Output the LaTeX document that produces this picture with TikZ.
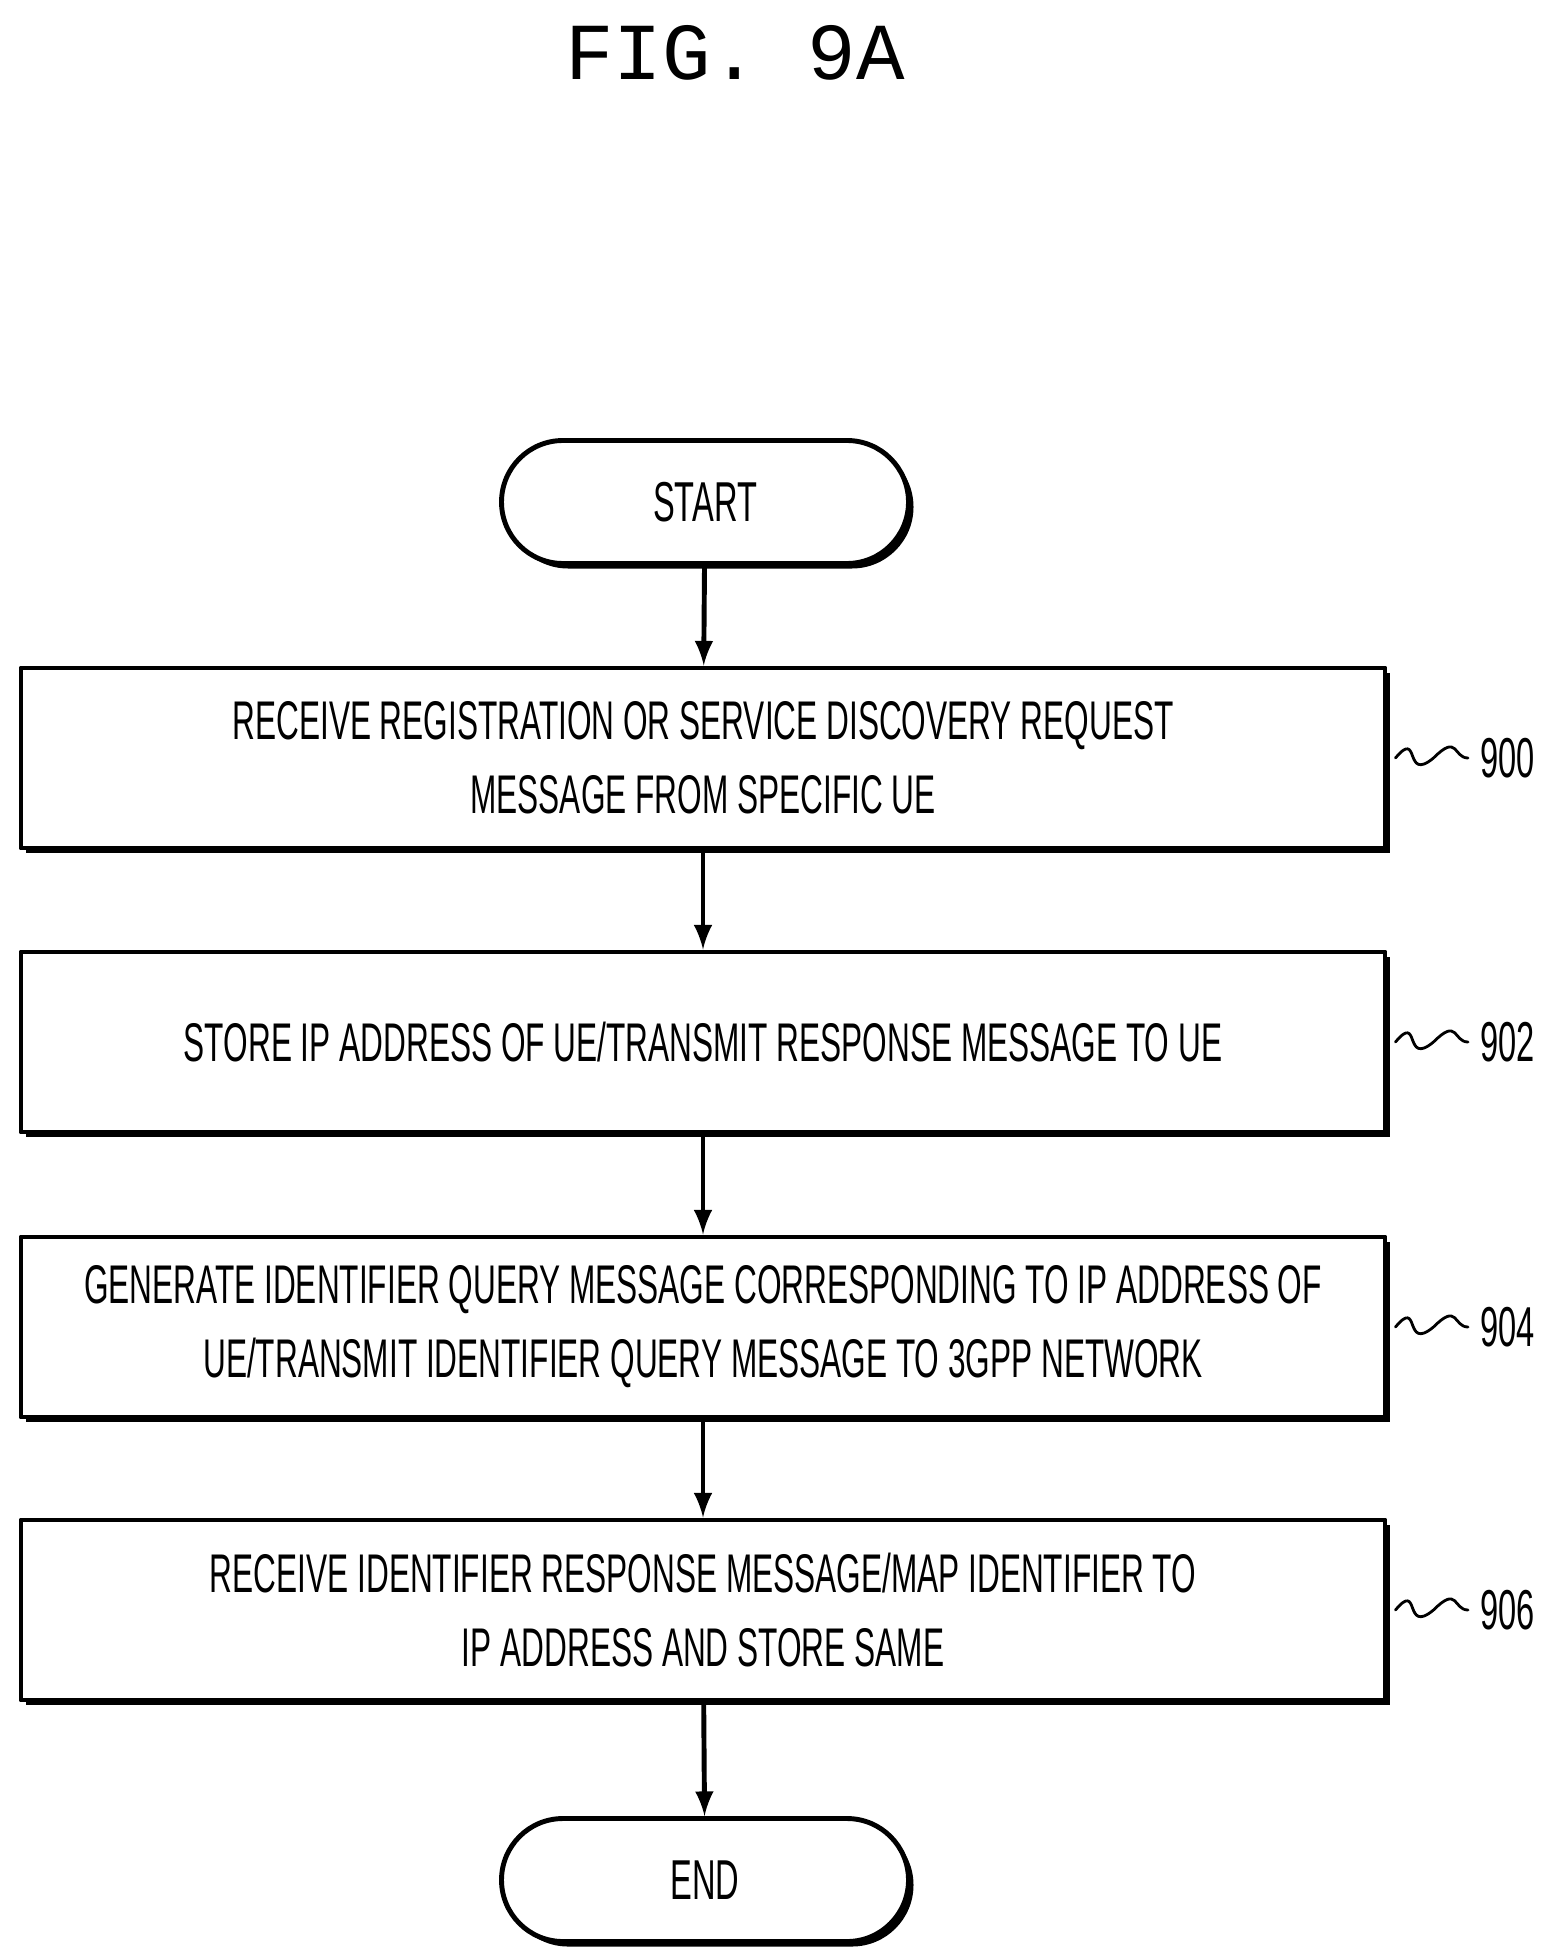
\documentclass[tikz,border=0pt]{standalone}
\usepackage{fontspec}
\setmainfont{Liberation Sans}[FakeStretch=0.58]
\newfontfamily\figfont{Liberation Mono}
\usetikzlibrary{shadows}
\tikzset{
  procbox/.style={draw=black, line width=1.4pt, fill=white, minimum width=13.64cm, minimum height=1.8cm,
    align=center, font=\fontsize{15.5}{21}\selectfont,
    drop shadow={shadow xshift=0.05cm, shadow yshift=-0.05cm, fill=black, opacity=1}},
  term/.style={draw=black, line width=1.4pt, fill=white, rounded corners=0.615cm, minimum width=4.07cm,
    minimum height=1.23cm, font=\fontsize{16}{21}\selectfont,
    drop shadow={shadow xshift=0.05cm, shadow yshift=-0.05cm, fill=black, opacity=1}},
  flow/.style={line width=1.4pt, -latex},
  tag/.style={font=\fontsize{16}{21}\selectfont, anchor=west}
}
\begin{document}
\begin{tikzpicture}[line cap=round, line join=round]
  \useasboundingbox (0, 0) rectangle (15.54, -19.58);
  % Title
  \node [font=\figfont\fontsize{23}{28}\selectfont] (title) at (7.35, -0.53) {FIG. 9A};
  % Terminals
  \node [term] (start) at (7.05, -5.02) {START};
  \node [term] (end) at (7.05, -18.8) {END};
  % Steps
  \node [procbox] (s900) at (7.03, -7.58) {RECEIVE REGISTRATION OR SERVICE DISCOVERY REQUEST\\MESSAGE FROM SPECIFIC UE};
  \node [procbox] (s902) at (7.03, -10.42) {STORE IP ADDRESS OF UE/TRANSMIT RESPONSE MESSAGE TO UE};
  \node [procbox] (s904) at (7.03, -13.27) {GENERATE IDENTIFIER QUERY MESSAGE CORRESPONDING TO IP ADDRESS OF\\UE/TRANSMIT IDENTIFIER QUERY MESSAGE TO 3GPP NETWORK};
  \node [procbox] (s906) at (7.03, -16.1) {RECEIVE IDENTIFIER RESPONSE MESSAGE/MAP IDENTIFIER TO\\IP ADDRESS AND STORE SAME};
  % Arrows
  \draw [flow] (start) -- (s900);
  \draw [flow] (s900) -- (s902);
  \draw [flow] (s902) -- (s904);
  \draw [flow] (s904) -- (s906);
  \draw [flow] (s906) -- (end);
  % Reference numerals
  \foreach \a in {900, 902, 904, 906} {
    \node [tag] (t\a) at (14.68, 0 |- s\a.center) {\a};
    \coordinate (w\a) at ([xshift=0.08cm] s\a.east);
    \draw [line width=0.8pt] (w\a) .. controls ++(0.25, 0.3) and ++(-0.3, -0.25) .. ++(0.38, 0) .. controls ++(0.25, 0.25) and ++(-0.15, 0) .. (t\a.west);
  }
\end{tikzpicture}
\end{document}
